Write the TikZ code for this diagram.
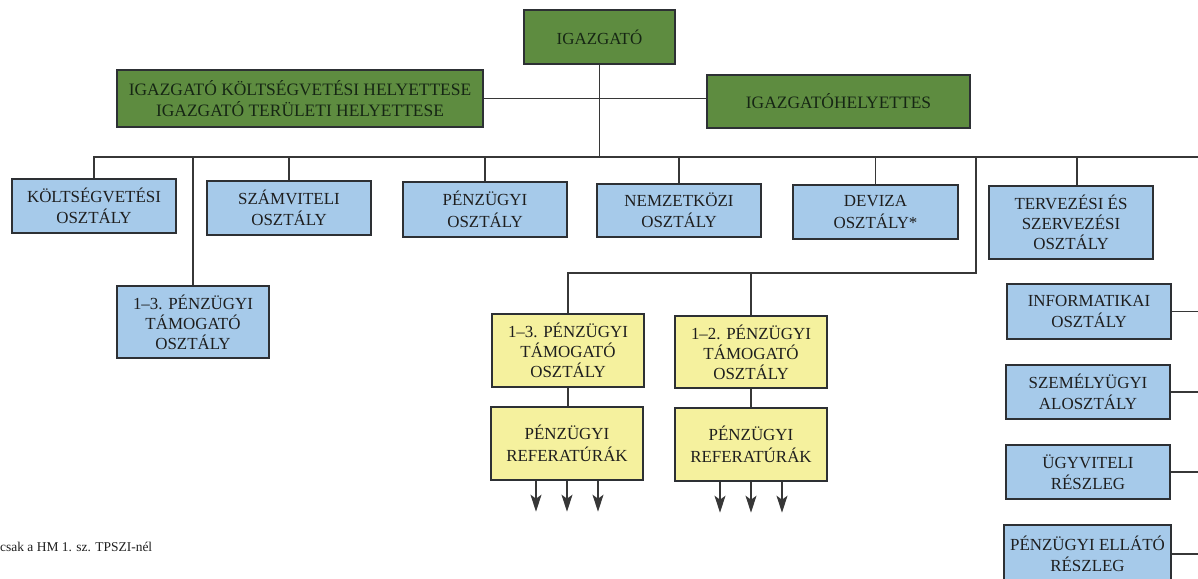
\documentclass[tikz,border=0pt]{standalone}
\usepackage{fontspec}
\setmainfont{Liberation Serif}
\usetikzlibrary{arrows.meta}

\definecolor{dirgreen}{RGB}{94,140,64}
\definecolor{greentext}{RGB}{22,38,20}
\definecolor{deptblue}{RGB}{166,202,234}
\definecolor{supyellow}{RGB}{245,241,158}
\definecolor{boxline}{RGB}{45,48,52}
\definecolor{linegray}{RGB}{55,55,55}
\definecolor{textdark}{RGB}{30,30,30}

\tikzset{
  unit/.style={draw=boxline, line width=1.4bp, align=center, inner sep=0pt,
               font=\fontsize{17}{21.5}\selectfont, text=textdark},
  green/.style={unit, fill=dirgreen, text=greentext},
  blue/.style={unit, fill=deptblue},
  yellow/.style={unit, fill=supyellow},
  link/.style={draw=linegray, line width=1.3bp},
  down/.style={link, -{Stealth[length=17bp,width=11bp,inset=4bp]}}
}

\begin{document}
\begin{tikzpicture}[x=1bp,y=-1bp]
\useasboundingbox (0,0) rectangle (1198,579);

% management
\node[green, minimum width=151bp, minimum height=54bp] (dir) at (599.5,37) {IGAZGATÓ};
\node[green, minimum width=366bp, minimum height=57bp, font=\fontsize{17.5}{21}\selectfont] (depA) at (300,98.5)
  {IGAZGATÓ KÖLTSÉGVETÉSI HELYETTESE\\IGAZGATÓ TERÜLETI HELYETTESE};
\node[green, minimum width=263bp, minimum height=53bp, font=\fontsize{17.5}{21}\selectfont] (depB) at (838.5,101.5) {IGAZGATÓHELYETTES};

% departments on the main bus
\node[blue, minimum width=164bp, minimum height=54bp] (kolt) at (94,206) {KÖLTSÉGVETÉSI\\OSZTÁLY};
\node[blue, minimum width=164bp, minimum height=54bp] (szam) at (289,208) {SZÁMVITELI\\OSZTÁLY};
\node[blue, minimum width=164bp, minimum height=55bp] (penz) at (485,209.5) {PÉNZÜGYI\\OSZTÁLY};
\node[blue, minimum width=164bp, minimum height=53bp] (nemz) at (679,210.5) {NEMZETKÖZI\\OSZTÁLY};
\node[blue, minimum width=165bp, minimum height=54bp] (deviza) at (875.5,212) {DEVIZA\\OSZTÁLY*};
\node[blue, minimum width=164bp, minimum height=73bp, font=\fontsize{17}{20}\selectfont] (terv) at (1071,222.5) {TERVEZÉSI ÉS\\SZERVEZÉSI\\OSZTÁLY};
\node[blue, minimum width=152bp, minimum height=72bp, font=\fontsize{17}{20}\selectfont] (tam) at (193,322) {1–3. PÉNZÜGYI\\TÁMOGATÓ\\OSZTÁLY};

% right column
\node[blue, minimum width=164bp, minimum height=55bp] (info) at (1089,311.5) {INFORMATIKAI\\OSZTÁLY};
\node[blue, minimum width=164bp, minimum height=54bp] (szem) at (1088,392) {SZEMÉLYÜGYI\\ALOSZTÁLY};
\node[blue, minimum width=164bp, minimum height=54bp] (ugyv) at (1088,472) {ÜGYVITELI\\RÉSZLEG};
\node[blue, minimum width=167bp, minimum height=58bp] (ellato) at (1087.5,554) {PÉNZÜGYI ELLÁTÓ\\RÉSZLEG};

% support departments
\node[yellow, minimum width=152bp, minimum height=73bp, font=\fontsize{17}{20}\selectfont] (y1) at (568,350.5) {1–3. PÉNZÜGYI\\TÁMOGATÓ\\OSZTÁLY};
\node[yellow, minimum width=152bp, minimum height=73bp] (r1) at (567,443.5) {PÉNZÜGYI\\REFERATÚRÁK};
\node[yellow, minimum width=152bp, minimum height=72bp, font=\fontsize{17}{20}\selectfont] (y2) at (751,352) {1–2. PÉNZÜGYI\\TÁMOGATÓ\\OSZTÁLY};
\node[yellow, minimum width=152bp, minimum height=73bp] (r2) at (751,444.5) {PÉNZÜGYI\\REFERATÚRÁK};

% footnote
\node[anchor=west, inner sep=0pt, font=\fontsize{13.5}{16}\selectfont, text=textdark] (note) at (0,547)
  {csak a HM 1. sz. TPSZI-nél};

% connection points
\coordinate (busR) at (1198,157);
\coordinate (subTop) at (976,157);
\coordinate (subCorner) at (976,273);
\coordinate (rail) at (1198,300);

% management links
\draw[link] (depA.east) -- (depA.east -| depB.west);
\draw[link] (dir.south) -- (dir.south |- busR);

% main bus and drops
\draw[link] (kolt.north) |- (busR);
\foreach \n in {szam,penz,nemz,deviza,tam}
  \draw[link] (\n.north) -- (\n.north |- busR);
\draw[link] ([xshift=6bp]terv.north) -- ([xshift=6bp]terv.north |- busR);

% branch to the support departments
\draw[link] (y1.north) |- (subCorner) -- (subTop);
\draw[link] (y2.north) -- (y2.north |- subCorner);
\draw[link] (y1.south) -- (y1.south |- r1.north);
\draw[link] (y2.south) -- (r2.north);

% right column stubs
\foreach \n in {info,szem,ugyv,ellato}
  \draw[link] (\n.east) -- (\n.east -| rail);

% downward arrows
\foreach \d in {-31,0,31} {
  \draw[down] ([xshift=\d bp]r1.south) -- ++(0,31);
  \draw[down] ([xshift=\d bp]r2.south) -- ++(0,31);
}
\end{tikzpicture}
\end{document}
